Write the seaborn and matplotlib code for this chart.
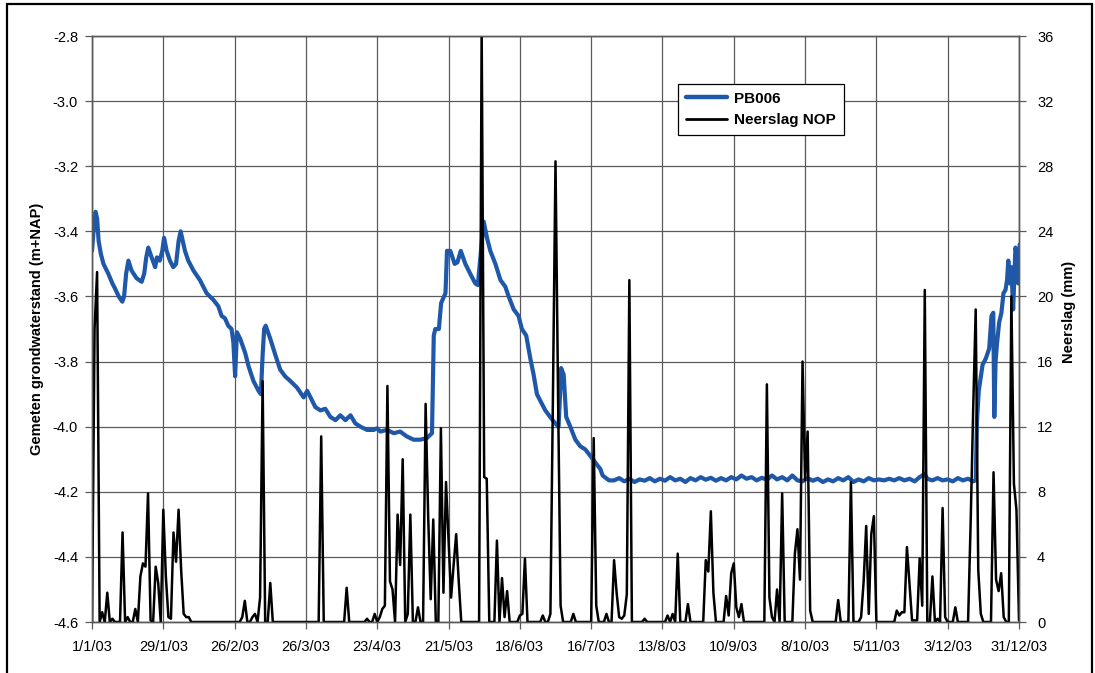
import numpy as np
import pandas as pd
import matplotlib
matplotlib.use("Agg")
import matplotlib.pyplot as plt
import seaborn as sns
from matplotlib.lines import Line2D
from matplotlib.patches import Rectangle

sns.set_theme(style="white", rc={
    "text.color": "black", "axes.labelcolor": "black",
    "xtick.color": "black", "ytick.color": "black",
})
plt.rcParams["font.family"] = ["Liberation Sans", "DejaVu Sans"]

start = pd.Timestamp("2003-01-01")

# Groundwater level PB006 (m+NAP), day offset from 1 Jan 2003
gw_day = [0, 0.6, 1.4, 2.0, 2.6, 3.5, 4.5, 6.4, 8.0, 9.0, 10.5, 11.9, 12.6, 13.4, 14.3,
          15.5, 17.5, 19.5, 20.5, 21.3, 22.1, 23.4, 24.8, 25.5, 26.6, 27.6, 28.3, 29.3,
          30.6, 31.9, 33.0, 34.0, 34.8, 36.5, 37.8, 39.8, 42.4, 45.0, 47.6, 49.6, 50.9,
          52.2, 53.5, 54.8, 55.5, 56.2, 56.9, 58.2, 60.2, 61.5, 63.4, 65.4, 66.3, 67.0,
          67.6, 68.2, 70.0, 72.0, 73.9, 75.9, 77.9, 80.5, 83.1, 84.5, 85.8, 87.7, 89.7,
          91.6, 93.6, 95.6, 97.5, 99.5, 101.5, 103.4, 105.4, 108, 110.6, 112, 113.2,
          115.8, 118.5, 121, 123.6, 126.3, 128.9, 131.5, 133.5, 134.2, 134.8, 136.2,
          137.1, 138.8, 139.4, 140.7, 142.4, 143.5, 144.8, 146.6, 148.5, 150.5, 151.5,
          152.4, 153.8, 155.1, 156.4, 158.4, 160.4, 162.3, 163.6, 165.6, 167.5, 168.8,
          170.5, 172.1, 173.4, 174.7, 176, 178, 179.9, 181.9, 183.2, 183.8, 184.2, 185.2,
          186.2, 187.8, 189.8, 191.7, 193.7, 195.7, 197.6, 199.6, 200.5, 203,
          205, 207, 209, 211, 213, 215, 217, 219, 221, 223, 225, 227, 229, 231, 233, 235,
          237, 239, 241, 243, 245, 247, 249, 251, 253, 255, 257, 259, 261, 263, 265, 267,
          269, 271, 273, 275, 277, 279, 281, 283, 285, 287, 289, 291, 293, 295, 297, 299,
          301, 303, 305, 307, 309, 311, 313, 315, 317, 319, 321, 323, 325, 327, 328, 330,
          332, 334, 336, 338, 340, 342, 344, 346, 347,
          347.5, 348.2, 349.7, 351, 352.3, 353.2, 353.9, 354.3, 354.8, 355.3, 356.2,
          357.1, 357.9, 358.7, 359.3, 359.8, 360.4, 361, 361.7, 362.6, 363.2, 363.7,
          364.3, 364.9]
gw_level = [-3.46, -3.40, -3.34, -3.36, -3.43, -3.47, -3.50, -3.53, -3.56, -3.575, -3.60,
            -3.616, -3.60, -3.53, -3.49, -3.52, -3.544, -3.555, -3.53, -3.48, -3.45, -3.48,
            -3.51, -3.48, -3.49, -3.46, -3.42, -3.46, -3.49, -3.51, -3.50, -3.43, -3.40,
            -3.46, -3.49, -3.52, -3.55, -3.59, -3.61, -3.63, -3.66, -3.667, -3.69, -3.70,
            -3.74, -3.845, -3.71, -3.73, -3.775, -3.815, -3.86, -3.89, -3.90, -3.78, -3.70,
            -3.69, -3.73, -3.78, -3.825, -3.846, -3.86, -3.88, -3.91, -3.89, -3.91, -3.94,
            -3.95, -3.945, -3.97, -3.98, -3.965, -3.98, -3.965, -3.99, -4.00, -4.01, -4.01,
            -4.005, -4.015, -4.01, -4.02, -4.015, -4.03, -4.04, -4.04, -4.035, -4.02,
            -3.72, -3.70, -3.70, -3.62, -3.59, -3.46, -3.46, -3.50, -3.495, -3.46, -3.50,
            -3.53, -3.56, -3.565, -3.49, -3.37, -3.42, -3.46, -3.50, -3.55, -3.57, -3.60,
            -3.64, -3.66, -3.70, -3.72, -3.79, -3.84, -3.90, -3.92, -3.95, -3.97, -3.99,
            -4.00, -3.90, -3.82, -3.84, -3.97, -4.00, -4.04, -4.06, -4.07, -4.09, -4.11,
            -4.13, -4.15, -4.165,
            -4.165, -4.158, -4.168, -4.16, -4.17, -4.162, -4.166, -4.158, -4.168, -4.16,
            -4.166, -4.155, -4.165, -4.16, -4.17, -4.158, -4.165, -4.155, -4.163, -4.157,
            -4.166, -4.158, -4.165, -4.155, -4.162, -4.15, -4.16, -4.155, -4.165, -4.157,
            -4.163, -4.15, -4.162, -4.155, -4.165, -4.15, -4.165, -4.168, -4.158, -4.166,
            -4.16, -4.17, -4.162, -4.168, -4.158, -4.165, -4.155, -4.17, -4.162, -4.168,
            -4.158, -4.165, -4.162, -4.165, -4.16, -4.165, -4.158, -4.165, -4.16, -4.168,
            -4.155, -4.145, -4.16, -4.165, -4.158, -4.165, -4.162, -4.168, -4.158, -4.165,
            -4.16, -4.168, -4.165,
            -3.98, -3.89, -3.81, -3.79, -3.76, -3.66, -3.65, -3.97, -3.80, -3.75, -3.68,
            -3.65, -3.59, -3.58, -3.55, -3.49, -3.56, -3.51, -3.64, -3.45, -3.47, -3.56,
            -3.44, -3.46]

# Daily precipitation Neerslag NOP (mm); days not listed had no rain
rain_day = [1, 2, 4, 6, 8, 12, 14, 17, 19, 20, 21, 22, 23, 25, 26, 28, 29, 30, 31, 32,
            33, 34, 35, 36, 37, 38, 59, 60, 63, 64, 66, 67, 70, 90, 100, 108, 111, 113,
            114, 115, 116, 117, 118, 120, 121, 122, 124, 125, 128, 131, 132, 133, 134,
            137, 138, 139, 140, 141, 142, 143, 144, 153, 154, 155, 159, 161, 162, 163,
            168, 169, 170, 177, 180, 181, 182, 183, 184, 189, 197, 198, 202, 205, 206,
            207, 208, 209, 210, 211, 217, 226, 228, 230, 234, 241, 242, 243, 244, 249,
            250, 251, 252, 253, 254, 255, 265, 266, 267, 269, 271, 276, 277, 278, 279,
            280, 281, 282, 293, 298, 302, 303, 304, 305, 306, 307, 316, 317, 318, 319,
            320, 321, 322, 323, 324, 325, 326, 327, 330, 332, 334, 335, 339, 345, 346,
            347, 348, 349, 354, 355, 356, 357, 358, 361, 362, 363, 364]
rain_mm = [18.0, 21.5, 0.6, 1.8, 0.2, 5.5, 0.3, 0.8, 2.8, 3.6, 3.4, 7.9, 0.1, 3.4, 2.4,
           6.9, 2.8, 0.3, 0.2, 5.5, 3.7, 6.9, 3.2, 0.5, 0.3, 0.3, 0.3, 1.3, 0.3, 0.5, 1.5,
           14.8, 2.4, 11.4, 2.1, 0.2, 0.5, 0.3, 0.8, 1.0, 14.5, 2.5, 2.0, 6.6, 3.5, 10.0,
           0.5, 6.6, 0.9, 13.4, 6.5, 1.4, 6.3, 11.9, 1.8, 8.6, 5.0, 1.5, 3.5, 5.4, 2.5,
           36.5, 8.9, 8.8, 5.0, 2.7, 0.3, 1.9, 0.4, 0.5, 3.9, 0.4, 0.5, 14.0, 28.3, 14.0,
           1.0, 0.5, 11.3, 1.0, 0.5, 3.8, 1.8, 0.3, 0.2, 0.4, 1.7, 21.0, 0.2, 0.4, 0.5,
           4.2, 1.1, 3.8, 3.1, 6.8, 1.8, 1.6, 0.4, 3.0, 3.6, 0.9, 0.3, 1.1, 14.6, 1.5, 0.3,
           2.0, 7.9, 4.2, 5.7, 2.6, 16.0, 8.7, 11.7, 0.7, 1.35, 8.6, 0.3, 2.5, 5.9, 0.5,
           5.4, 6.5, 0.7, 0.4, 0.6, 0.6, 4.6, 2.3, 0.1, 0.1, 0.1, 3.9, 1.0, 20.4, 2.8, 0.2,
           7.0, 0.3, 0.9, 6.0, 13.0, 19.2, 3.2, 0.5, 9.2, 2.6, 1.9, 3.0, 0.3, 20.0, 8.5,
           6.9, 0.1]

daily_mm = np.zeros(365)
daily_mm[rain_day] = rain_mm
rain = pd.DataFrame({"date": pd.date_range(start, periods=365, freq="D"), "mm": daily_mm})
gw = pd.DataFrame({"date": start + pd.to_timedelta(gw_day, unit="D"), "level": gw_level})

tick_dates = pd.date_range(start, periods=14, freq="28D")
tick_labels = [f"{d.day}/{d.month}/{d:%y}" for d in tick_dates]

W, H = 1095, 673
fig = plt.figure(figsize=(W / 100, H / 100), dpi=100)
ax = fig.add_axes([92 / W, 51 / H, 927 / W, 586 / H])
ax2 = ax.twinx()

blue = "#1f58a8"
sns.lineplot(data=gw, x="date", y="level", ax=ax, color=blue, lw=3.0, legend=False)
sns.lineplot(data=rain, x="date", y="mm", ax=ax2, color="black", lw=1.8, legend=False)

ax.set_xlim(start, pd.Timestamp("2003-12-31"))
ax.set_ylim(-4.6, -2.8)
ax2.set_ylim(0, 36)
ax.set_yticks(np.round(np.arange(-4.6, -2.79, 0.2), 1))
ax.set_yticklabels([f"{v:.1f}" for v in np.arange(-4.6, -2.79, 0.2)])
ax2.set_yticks(np.arange(0, 37, 4))
ax.set_xticks(tick_dates)
ax.set_xticklabels(tick_labels)

grid_col = "#5a5a5a"
ax.grid(True, color=grid_col, lw=0.9)
ax2.grid(False)
for a in (ax, ax2):
    for s in a.spines.values():
        s.set_color(grid_col)
        s.set_linewidth(1.0)

ax.tick_params(axis="y", left=True, direction="out", length=5, width=0.9,
               color=grid_col, labelsize=10.5, pad=5)
ax.tick_params(axis="x", bottom=True, direction="out", length=5, width=0.9,
               color=grid_col, labelsize=10.5, pad=8)
ax2.tick_params(axis="y", right=True, direction="out", length=5, width=0.9,
                color=grid_col, labelsize=10.5, pad=8)

ax.set_xlabel("")
ax.set_ylabel("Gemeten grondwaterstand (m+NAP)", fontsize=10.5, fontweight="bold")
ax.yaxis.set_label_coords(-0.052, 0.5)
ax2.set_ylabel("Neerslag (mm)", fontsize=10.5, fontweight="bold")
ax2.yaxis.set_label_coords(1.046, 0.529)

handles = [Line2D([], [], color=blue, lw=3.2), Line2D([], [], color="black", lw=2.0)]
leg = ax2.legend(handles, ["PB006", "Neerslag NOP"], loc="upper left",
                 bbox_to_anchor=(0.632, 0.918), frameon=True, fancybox=False,
                 framealpha=1, edgecolor="black", borderpad=0.5, labelspacing=0.5,
                 handlelength=2.7, handletextpad=0.5, borderaxespad=0.0,
                 prop={"weight": "bold", "size": 11})
leg.get_frame().set_linewidth(0.9)

fig.patches.append(Rectangle((7 / W, -0.05), (1092 - 7) / W, (H - 4) / H + 0.05,
                             transform=fig.transFigure, fill=False, lw=1.6,
                             ec="black", zorder=10))

fig.savefig("out.png", dpi=100)
